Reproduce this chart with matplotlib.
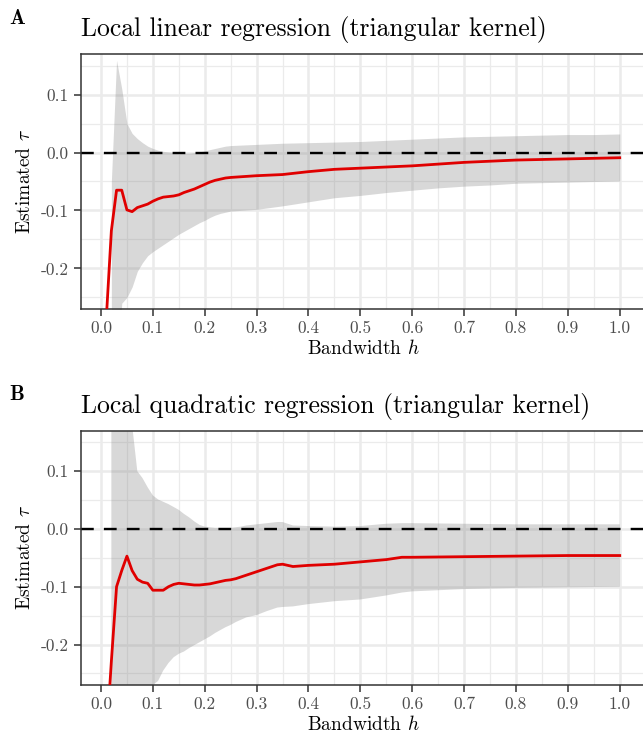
import matplotlib
matplotlib.use("Agg")
import matplotlib.pyplot as plt
import numpy as np

plt.rcParams['font.family'] = ['cmr10', 'DejaVu Serif']
plt.rcParams['mathtext.fontset'] = 'cm'
plt.rcParams['axes.unicode_minus'] = False

# ---- Panel A: local linear ----
h_A = [0.01, 0.02, 0.03, 0.04, 0.05, 0.06, 0.07, 0.08, 0.09, 0.10,
       0.11, 0.12, 0.13, 0.14, 0.15, 0.16, 0.17, 0.18, 0.19, 0.20,
       0.21, 0.22, 0.23, 0.24, 0.25, 0.30, 0.35, 0.40, 0.45, 0.50,
       0.55, 0.60, 0.65, 0.70, 0.75, 0.80, 0.85, 0.90, 0.95, 1.00]
tau_A = [-0.29, -0.135, -0.065, -0.065, -0.099, -0.102, -0.095, -0.092, -0.089, -0.084,
         -0.080, -0.077, -0.076, -0.075, -0.073, -0.069, -0.066, -0.063, -0.059, -0.055,
         -0.051, -0.048, -0.046, -0.044, -0.043, -0.040, -0.038, -0.033, -0.029, -0.027,
         -0.025, -0.023, -0.020, -0.017, -0.015, -0.013, -0.012, -0.011, -0.010, -0.009]
upper_A = [np.nan, -0.05, 0.159, 0.11, 0.05, 0.033, 0.024, 0.017, 0.011, 0.007,
           0.004, 0.002, 0.001, 0.0, -0.001, -0.001, -0.001, 0.0, 0.001, 0.003,
           0.005, 0.007, 0.009, 0.011, 0.012, 0.014, 0.016, 0.017, 0.018, 0.019,
           0.021, 0.023, 0.025, 0.027, 0.028, 0.029, 0.030, 0.031, 0.031, 0.032]
lower_A = [np.nan, -0.5, -0.42, -0.26, -0.25, -0.232, -0.205, -0.19, -0.178, -0.171,
           -0.165, -0.159, -0.153, -0.147, -0.141, -0.136, -0.131, -0.126, -0.121, -0.117,
           -0.112, -0.108, -0.105, -0.103, -0.101, -0.098, -0.092, -0.085, -0.078, -0.074,
           -0.069, -0.065, -0.061, -0.058, -0.056, -0.053, -0.052, -0.051, -0.050, -0.049]

# ---- Panel B: local quadratic ----
h_B = [0.01, 0.02, 0.03, 0.04, 0.05, 0.06, 0.07, 0.08, 0.09, 0.10,
       0.11, 0.12, 0.13, 0.14, 0.15, 0.16, 0.17, 0.18, 0.19, 0.20,
       0.21, 0.22, 0.23, 0.24, 0.25, 0.26, 0.27, 0.28, 0.29, 0.30,
       0.32, 0.34, 0.35, 0.37, 0.40, 0.45, 0.50, 0.55, 0.58, 0.60,
       0.70, 0.80, 0.90, 1.00]
tau_B = [-0.37, -0.229, -0.100, -0.072, -0.047, -0.072, -0.087, -0.092, -0.094, -0.106,
         -0.106, -0.106, -0.100, -0.096, -0.094, -0.095, -0.096, -0.097, -0.097, -0.096,
         -0.095, -0.093, -0.091, -0.089, -0.088, -0.086, -0.083, -0.080, -0.077, -0.074,
         -0.068, -0.062, -0.061, -0.065, -0.063, -0.061, -0.057, -0.053, -0.049, -0.049,
         -0.048, -0.047, -0.046, -0.046]
upper_B = [np.nan, 0.6, 0.5, 0.4, 0.3, 0.18, 0.10, 0.088, 0.072, 0.058,
           0.051, 0.047, 0.043, 0.038, 0.033, 0.026, 0.020, 0.013, 0.007, 0.004,
           0.003, 0.002, 0.002, 0.002, 0.002, 0.003, 0.004, 0.006, 0.007, 0.008,
           0.010, 0.012, 0.012, 0.006, 0.005, 0.004, 0.005, 0.009, 0.010, 0.010,
           0.009, 0.008, 0.008, 0.008]
lower_B = [np.nan, -0.8, -0.7, -0.6, -0.5, -0.45, -0.4, -0.33, -0.29, -0.27,
           -0.263, -0.245, -0.232, -0.222, -0.216, -0.212, -0.206, -0.201, -0.196, -0.191,
           -0.186, -0.180, -0.175, -0.170, -0.166, -0.161, -0.157, -0.153, -0.151, -0.149,
           -0.142, -0.136, -0.135, -0.134, -0.130, -0.125, -0.122, -0.115, -0.110, -0.108,
           -0.104, -0.102, -0.101, -0.100]

titles = ["Local linear regression (triangular kernel)",
          "Local quadratic regression (triangular kernel)"]
tags = ["A", "B"]
x_ticks = [0.0, 0.1, 0.2, 0.3, 0.4, 0.5, 0.6, 0.7, 0.8, 0.9, 1.0]
x_ticklabels = ["0.0", "0.1", "0.2", "0.3", "0.4", "0.5", "0.6", "0.7", "0.8", "0.9", "1.0"]
y_ticks = [-0.2, -0.1, 0.0, 0.1]
y_ticklabels = ["-0.2", "-0.1", "0.0", "0.1"]

W, H = 643, 742
fig = plt.figure(figsize=(W / 100, H / 100), dpi=100)

panels = [
    (h_A, tau_A, upper_A, lower_A, 54, 309),
    (h_B, tau_B, upper_B, lower_B, 430.7, 685),
]

left_px = 80.5
xlim = (-0.0395, 1.0495)
right_px = 645.4

for i, (h, tau, up, lo, top_px, bot_px) in enumerate(panels):
    ax = fig.add_axes([left_px / W, 1 - bot_px / H, (right_px - left_px) / W, (bot_px - top_px) / H])
    ax.set_xlim(*xlim)
    ax.set_ylim(-0.27, 0.17)
    # grid
    for xv in np.arange(0.05, 1.05, 0.1):
        ax.axvline(xv, color='#EBEBEB', lw=0.9, zorder=0)
    for yv in [-0.25, -0.15, -0.05, 0.05, 0.15]:
        ax.axhline(yv, color='#EBEBEB', lw=0.9, zorder=0)
    for xv in x_ticks:
        ax.axvline(xv, color='#EBEBEB', lw=1.8, zorder=0)
    for yv in y_ticks:
        ax.axhline(yv, color='#EBEBEB', lw=1.8, zorder=0)

    ha = np.array(h)
    ua = np.array(up, dtype=float)
    la = np.array(lo, dtype=float)
    m = ~np.isnan(ua)
    ax.fill_between(ha[m], la[m], ua[m], color='#7F7F7F', alpha=0.3, lw=0, zorder=1)
    ax.axhline(0.0, color='black', lw=1.7, dashes=(5.4, 4.3), zorder=2)
    ax.plot(h, tau, color='#E00000', lw=2.0, zorder=3, solid_joinstyle='round')

    ax.set_xticks(x_ticks)
    ax.set_xticklabels(x_ticklabels)
    ax.set_yticks(y_ticks)
    ax.set_yticklabels(y_ticklabels)
    ax.tick_params(axis='both', length=5, width=1.1, color='#333333',
                   labelcolor='#4D4D4D', labelsize=12.5, pad=3.5)
    for s in ax.spines.values():
        s.set_color('#333333')
        s.set_linewidth(1.1)
    ax.set_xlabel(r"Bandwidth $h$", fontsize=14, labelpad=2)
    ax.set_ylabel(r"Estimated $\tau$", fontsize=14, labelpad=5)
    ax.set_title(titles[i], loc='left', fontsize=18.5, pad=13)
    fig.text(9 / W, 1 - (top_px - 36) / H, tags[i], fontsize=15, family='cmb10',
             fontweight='bold', ha='left', va='center')

fig.savefig("out.png", dpi=100)
